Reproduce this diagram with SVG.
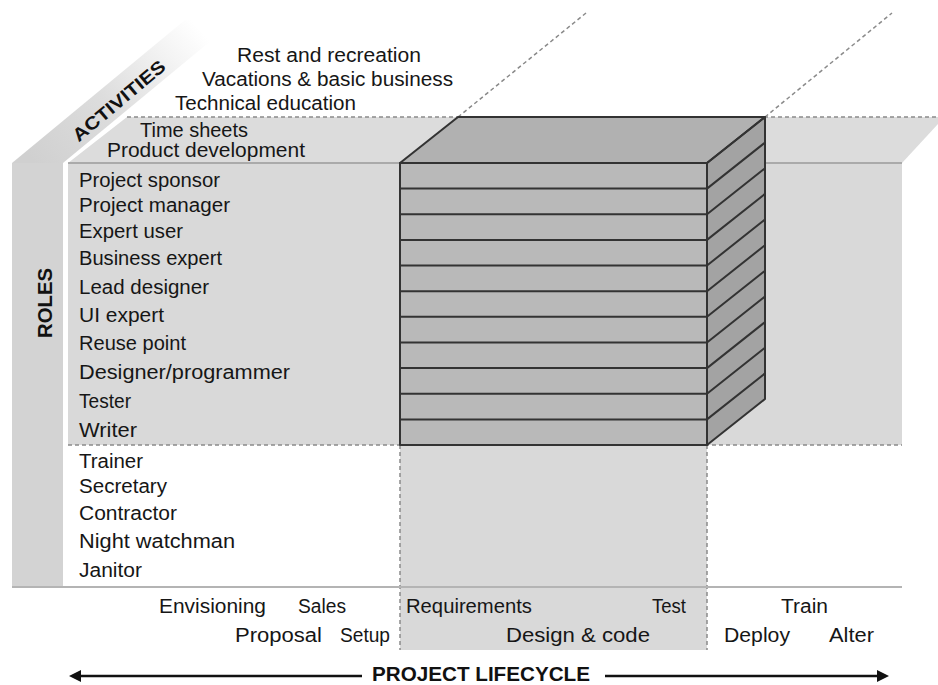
<svg xmlns="http://www.w3.org/2000/svg" width="938" height="685" viewBox="0 0 938 685">
<defs>
<linearGradient id="bandGrad" gradientUnits="userSpaceOnUse" x1="40" y1="170" x2="200" y2="30">
<stop offset="0" stop-color="#d0d0d0"/>
<stop offset="0.45" stop-color="#dddddd"/>
<stop offset="0.85" stop-color="#f6f6f6"/>
<stop offset="1" stop-color="#ffffff"/>
</linearGradient>
<marker id="arrowL" viewBox="0 0 12 12" refX="1" refY="6" markerWidth="12" markerHeight="12" markerUnits="userSpaceOnUse" orient="auto-start-reverse">
<path d="M0,0 L12,6 L0,12 Z" fill="#111"/>
</marker>
<style>
.t{font-family:"Liberation Sans",Arial,sans-serif;font-size:20px;fill:#161616}
.b{font-family:"Liberation Sans",Arial,sans-serif;font-weight:bold;fill:#111}
.plane{fill:#d9d9d9}
.dash{stroke:#8a8a8a;stroke-width:1.5;stroke-dasharray:4 3;fill:none}
.edge{stroke:#333;stroke-width:2;fill:none;stroke-linejoin:round}
</style>
</defs>
<rect width="938" height="685" fill="#fff"/>

<g id="planes">
<polygon points="12,163 63,163 236,20 185,20" fill="url(#bandGrad)"/>
<rect x="12" y="163" width="51" height="425" fill="#d3d3d3"/>
<polygon points="68,163 127,117 938,117 938,124 902,163" fill="#dcdcdc"/>
<rect class="plane" x="68" y="163" width="834" height="282"/>
<rect class="plane" x="400" y="445" width="307" height="205"/>
<line x1="68" y1="163" x2="902" y2="163" stroke="#9a9a9a" stroke-width="1.5"/>
<line class="dash" x1="127" y1="117" x2="938" y2="117"/>
<line class="dash" x1="68" y1="445" x2="902" y2="445"/>
<line class="dash" x1="400" y1="445" x2="400" y2="650"/>
<line class="dash" x1="707" y1="445" x2="707" y2="650"/>
<line x1="12" y1="587" x2="902" y2="587" stroke="#b4b4b4" stroke-width="2"/>
<line class="dash" x1="458" y1="117" x2="586" y2="13"/>
<line class="dash" x1="765" y1="117" x2="892" y2="13"/>
</g>

<g id="cube">
<polygon points="400,163 458,117 765,117 707,163" fill="#b1b1b1"/>
<rect x="400" y="163" width="307" height="282" fill="#b9b9b9"/>
<polygon points="707,163 765,117 765,399 707,445" fill="#a3a3a3"/>
<g class="edge">
<polygon points="400,163 458,117 765,117 707,163"/>
<rect x="400" y="163" width="307" height="282"/>
<polygon points="707,163 765,117 765,399 707,445"/>
<path d="M400,188.6H707L765,142.6 M400,214.3H707L765,168.3 M400,239.9H707L765,193.9 M400,265.5H707L765,219.5 M400,291.2H707L765,245.2 M400,316.8H707L765,270.8 M400,342.5H707L765,296.5 M400,368.1H707L765,322.1 M400,393.7H707L765,347.7 M400,419.4H707L765,373.4"/>
</g>
</g>

<g id="activities">
<text class="b" font-size="18" transform="translate(119,101) rotate(-40)" x="0" y="6" text-anchor="middle" textLength="115" lengthAdjust="spacingAndGlyphs">ACTIVITIES</text>
<text class="t" x="237" y="62" textLength="184" lengthAdjust="spacingAndGlyphs">Rest and  recreation</text>
<text class="t" x="202" y="86" textLength="251" lengthAdjust="spacingAndGlyphs">Vacations &amp; basic business</text>
<text class="t" x="175" y="110" textLength="181" lengthAdjust="spacingAndGlyphs">Technical education</text>
<text class="t" x="140" y="137" textLength="108" lengthAdjust="spacingAndGlyphs">Time  sheets</text>
<text class="t" x="107" y="157" textLength="198" lengthAdjust="spacingAndGlyphs">Product  development</text>
</g>

<g id="roles">
<text class="b" font-size="20" transform="translate(45,303) rotate(-90)" x="0" y="7" text-anchor="middle" textLength="70" lengthAdjust="spacingAndGlyphs">ROLES</text>
<text class="t" x="79" y="187" textLength="141" lengthAdjust="spacingAndGlyphs">Project sponsor</text>
<text class="t" x="79" y="212" textLength="151" lengthAdjust="spacingAndGlyphs">Project manager</text>
<text class="t" x="79" y="238" textLength="104" lengthAdjust="spacingAndGlyphs">Expert user</text>
<text class="t" x="79" y="265" textLength="143" lengthAdjust="spacingAndGlyphs">Business expert</text>
<text class="t" x="79" y="294" textLength="130" lengthAdjust="spacingAndGlyphs">Lead designer</text>
<text class="t" x="79" y="322" textLength="85" lengthAdjust="spacingAndGlyphs">UI expert</text>
<text class="t" x="79" y="350" textLength="107" lengthAdjust="spacingAndGlyphs">Reuse point</text>
<text class="t" x="79" y="379" textLength="211" lengthAdjust="spacingAndGlyphs">Designer/programmer</text>
<text class="t" x="79" y="408" textLength="52" lengthAdjust="spacingAndGlyphs">Tester</text>
<text class="t" x="79" y="437" textLength="58" lengthAdjust="spacingAndGlyphs">Writer</text>
<text class="t" x="79" y="468" textLength="64" lengthAdjust="spacingAndGlyphs">Trainer</text>
<text class="t" x="79" y="493" textLength="88" lengthAdjust="spacingAndGlyphs">Secretary</text>
<text class="t" x="79" y="520" textLength="98" lengthAdjust="spacingAndGlyphs">Contractor</text>
<text class="t" x="79" y="548" textLength="156" lengthAdjust="spacingAndGlyphs">Night watchman</text>
<text class="t" x="79" y="577" textLength="63" lengthAdjust="spacingAndGlyphs">Janitor</text>
</g>

<g id="phases">
<text class="t" x="159" y="613" textLength="107" lengthAdjust="spacingAndGlyphs">Envisioning</text>
<text class="t" x="298" y="613" textLength="48" lengthAdjust="spacingAndGlyphs">Sales</text>
<text class="t" x="406" y="613" textLength="126" lengthAdjust="spacingAndGlyphs">Requirements</text>
<text class="t" x="652" y="613" textLength="34" lengthAdjust="spacingAndGlyphs">Test</text>
<text class="t" x="781" y="613" textLength="47" lengthAdjust="spacingAndGlyphs">Train</text>
<text class="t" x="235" y="642" textLength="87" lengthAdjust="spacingAndGlyphs">Proposal</text>
<text class="t" x="340" y="642" textLength="50" lengthAdjust="spacingAndGlyphs">Setup</text>
<text class="t" x="506" y="642" textLength="144" lengthAdjust="spacingAndGlyphs">Design &amp;  code</text>
<text class="t" x="724" y="642" textLength="66" lengthAdjust="spacingAndGlyphs">Deploy</text>
<text class="t" x="829" y="642" textLength="45" lengthAdjust="spacingAndGlyphs">Alter</text>
</g>

<g id="connectors">
<line x1="80" y1="676" x2="362" y2="676" stroke="#111" stroke-width="2.5" marker-start="url(#arrowL)"/>
<line x1="605" y1="676" x2="878" y2="676" stroke="#111" stroke-width="2.5" marker-end="url(#arrowL)"/>
<text class="b" font-size="21" x="372" y="681" textLength="218" lengthAdjust="spacingAndGlyphs">PROJECT LIFECYCLE</text>
</g>
</svg>
